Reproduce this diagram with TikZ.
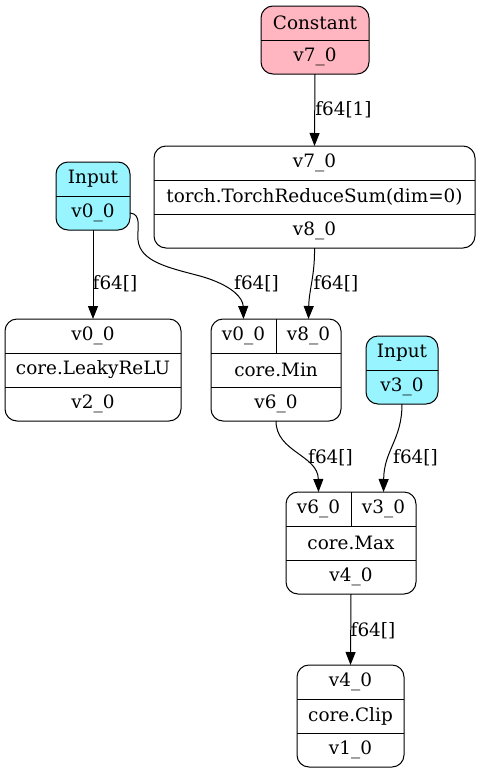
\documentclass[tikz,border=0pt]{standalone}
\usepackage{fontspec}
\setmainfont{DejaVu Serif}
\usetikzlibrary{arrows.meta}
\definecolor{constfill}{HTML}{FFB6C1}
\definecolor{inputfill}{HTML}{98F5FF}
\begin{document}
\begin{tikzpicture}[x=1pt,y=-1pt,
  rec/.style={draw, line width=1pt, rounded corners=12pt, inner sep=0pt, outer sep=0pt},
  sep/.style={line width=1pt},
  lbl/.style={inner sep=0pt, font=\fontsize{18.4}{22}\selectfont},
  elbl/.style={inner sep=0pt, font=\fontsize{18.4}{22}\selectfont},
  edge/.style={line width=1pt, -{Triangle[length=13pt,width=10pt]}}]
\useasboundingbox (0,0) rectangle (481,774);

% Constant v7_0
\node[rec, fill=constfill, minimum width=108pt, minimum height=68pt] (cst) at (315,40) {};
\draw[sep] (cst.west |- 0,40) -- (cst.east |- 0,40);
\node[lbl] (cst-h) at (315,23) {Constant};
\node[lbl] (cst-o) at (315,57) {v7\_0};

% ReduceSum
\node[rec, minimum width=321pt, minimum height=102pt] (sum) at (314.5,197) {};
\draw[sep] (sum.west |- 0,180) -- (sum.east |- 0,180);
\draw[sep] (sum.west |- 0,214) -- (sum.east |- 0,214);
\node[lbl] (sum-i) at (314.5,163) {v7\_0};
\node[lbl] (sum-op) at (314.5,197) {torch.TorchReduceSum(dim=0)};
\node[lbl] (sum-o) at (314.5,231) {v8\_0};

% Input v0_0
\node[rec, fill=inputfill, minimum width=74pt, minimum height=68pt] (inA) at (93,196) {};
\draw[sep] (inA.west |- 0,196) -- (inA.east |- 0,196);
\node[lbl] (inA-h) at (93,179) {Input};
\node[lbl] (inA-o) at (93,213) {v0\_0};

% LeakyReLU
\node[rec, minimum width=176pt, minimum height=102pt] (lrelu) at (93,370) {};
\draw[sep] (lrelu.west |- 0,353) -- (lrelu.east |- 0,353);
\draw[sep] (lrelu.west |- 0,387) -- (lrelu.east |- 0,387);
\node[lbl] (lrelu-i) at (93,336) {v0\_0};
\node[lbl] (lrelu-op) at (93,370) {core.LeakyReLU};
\node[lbl] (lrelu-o) at (93,404) {v2\_0};

% Min
\node[rec, minimum width=130pt, minimum height=102pt] (min) at (276,370) {};
\draw[sep] (min.west |- 0,353) -- (min.east |- 0,353);
\draw[sep] (min.west |- 0,387) -- (min.east |- 0,387);
\draw[sep] (min.north) -- (276,353);
\node[lbl] (min-a) at (243.5,336) {v0\_0};
\node[lbl] (min-b) at (308.5,336) {v8\_0};
\node[lbl] (min-op) at (276,370) {core.Min};
\node[lbl] (min-o) at (276,404) {v6\_0};

% Input v3_0
\node[rec, fill=inputfill, minimum width=72pt, minimum height=68pt] (inB) at (402,370) {};
\draw[sep] (inB.west |- 0,370) -- (inB.east |- 0,370);
\node[lbl] (inB-h) at (402,353) {Input};
\node[lbl] (inB-o) at (402,387) {v3\_0};

% Max
\node[rec, minimum width=130pt, minimum height=102pt] (max) at (351,543) {};
\draw[sep] (max.west |- 0,526) -- (max.east |- 0,526);
\draw[sep] (max.west |- 0,560) -- (max.east |- 0,560);
\draw[sep] (max.north) -- (351,526);
\node[lbl] (max-a) at (318.5,509) {v6\_0};
\node[lbl] (max-b) at (383.5,509) {v3\_0};
\node[lbl] (max-op) at (351,543) {core.Max};
\node[lbl] (max-o) at (351,577) {v4\_0};

% Clip
\node[rec, minimum width=107pt, minimum height=102pt] (clip) at (350.5,716) {};
\draw[sep] (clip.west |- 0,699) -- (clip.east |- 0,699);
\draw[sep] (clip.west |- 0,733) -- (clip.east |- 0,733);
\node[lbl] (clip-i) at (350.5,682) {v4\_0};
\node[lbl] (clip-op) at (350.5,716) {core.Clip};
\node[lbl] (clip-o) at (350.5,750) {v1\_0};

% Connectors
\draw[edge] (cst.south) -- (sum.north);
\node[elbl] (l1) at (343.5,110) {f64[1]};

\draw[edge] (inA.south) -- (lrelu.north);
\node[elbl] (l2) at (115,284) {f64[]};

\draw[edge] (inA.east |- inA-o) .. controls (142,214) and (137,228) .. (138,240)
  .. controls (140,262) and (170,268) .. (200,276)
  .. controls (232,285) and (243,298) .. (min-a |- min.north);
\node[elbl] (l3) at (256.5,284) {f64[]};

\draw[edge] (sum.south) .. controls (315,275) and (309,290) .. (min-b |- min.north);
\node[elbl] (l4) at (336,284) {f64[]};

\draw[edge] (min.south) .. controls (276,452) and (318,455) .. (max-a |- max.north);
\node[elbl] (l5) at (330.5,458) {f64[]};

\draw[edge] (inB.south) .. controls (402,440) and (384,450) .. (max-b |- max.north);
\node[elbl] (l6) at (415.5,458) {f64[]};

\draw[edge] (max.south) -- (clip.north);
\node[elbl] (l7) at (373,631) {f64[]};
\end{tikzpicture}
\end{document}
